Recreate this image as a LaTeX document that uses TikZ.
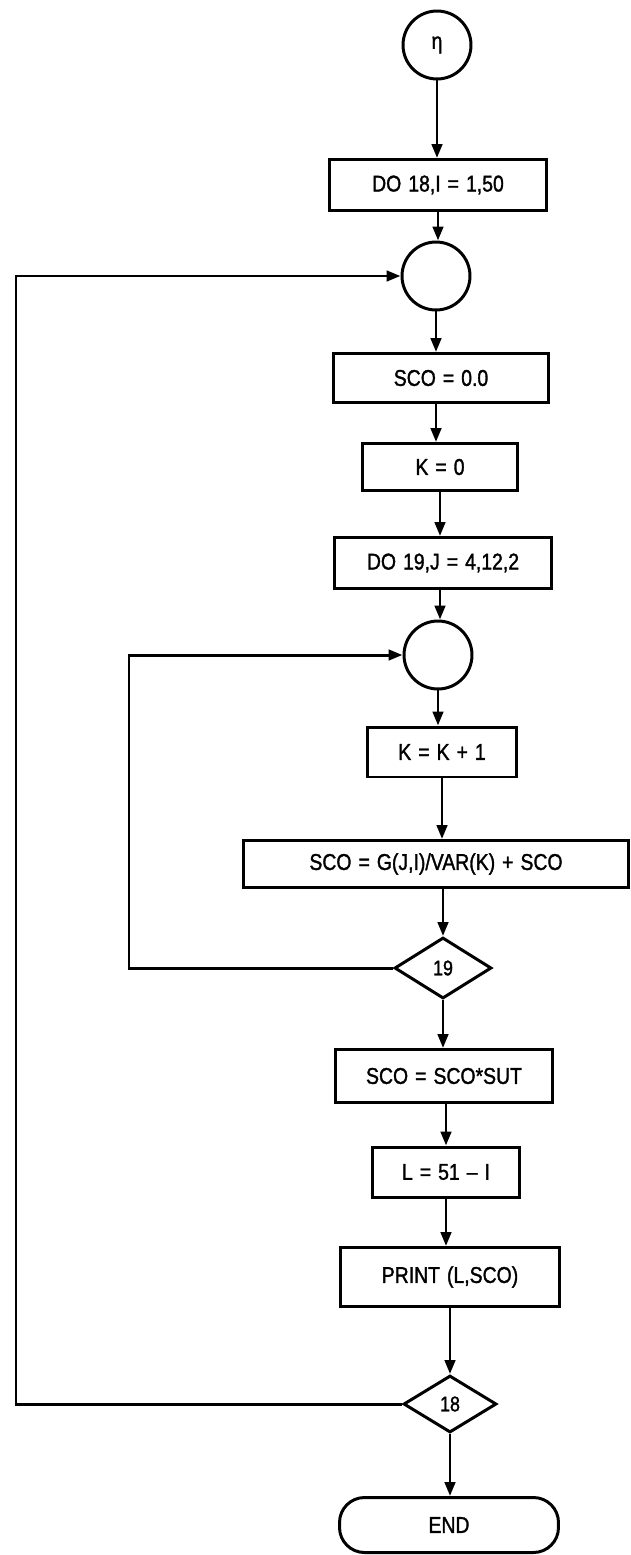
\documentclass[tikz,border=0pt]{standalone}
\usepackage{fontspec}
\setmainfont{Liberation Sans}
\newfontfamily\flowfont{Liberation Sans}[FakeStretch=0.85,FakeBold=1.4,WordSpace=1.3]
\usetikzlibrary{arrows.meta,shapes.geometric,calc}

\begin{document}
\begin{tikzpicture}[x=0.02cm,y=-0.02cm,line width=1.7pt,
  box/.style={draw,rectangle,inner sep=0pt,font=\flowfont\fontsize{13}{15}\selectfont},
  conn/.style={draw,circle,inner sep=0pt,minimum size=1.36cm,font=\flowfont\fontsize{13}{15}\selectfont},
  test/.style={draw,diamond,inner sep=0pt,font=\flowfont\fontsize{12}{14}\selectfont},
  flow/.style={-{Triangle[length=2.8mm,width=2.1mm]}}]
\useasboundingbox (0,0) rectangle (630,1555);

\node[conn] (eta) at (437,45) {η};
\node[box,minimum width=4.34cm,minimum height=1.02cm] (do18) at (438,185) {DO 18,I = 1,50};
\node[conn] (c1) at (436,276) {};
\node[box,minimum width=4.32cm,minimum height=0.98cm] (sco0) at (441,378) {SCO = 0.0};
\node[box,minimum width=3.1cm,minimum height=0.94cm] (k0) at (440,467) {K = 0};
\node[box,minimum width=4.36cm,minimum height=1.02cm] (do19) at (443,563) {DO 19,J = 4,12,2};
\node[conn] (c2) at (438,655) {};
\node[box,minimum width=2.98cm,minimum height=1cm] (kk1) at (442,752) {K = K + 1};
\node[box,minimum width=7.7cm,minimum height=0.94cm] (scog) at (436,864) {SCO = G(J,I)/VAR(K) + SCO};
\node[test,minimum width=1.94cm,minimum height=1.22cm] (d19) at (443,968) {19};
\node[box,minimum width=4.34cm,minimum height=1.06cm] (sut) at (444,1076) {SCO = SCO*SUT};
\node[box,minimum width=2.96cm,minimum height=1cm] (l51) at (446,1172) {L = 51 – I};
\node[box,minimum width=4.38cm,minimum height=1.18cm] (prt) at (450,1277) {PRINT (L,SCO)};
\node[test,minimum width=1.86cm,minimum height=1.14cm] (d18) at (450,1404) {18};
\node[box,rounded corners=0.5cm,minimum width=4.38cm,minimum height=1.1cm] (stop) at (449,1525) {END};

\coordinate (outl) at (16,0);
\coordinate (inl) at (129,0);

\draw[flow] (eta.south) -- (eta.south |- do18.north);
\draw[flow] (do18.south) -- (do18.south |- c1.north);
\draw[flow] (c1.south) -- (c1.south |- sco0.north);
\draw[flow] (c1.south |- sco0.south) -- (c1.south |- k0.north);
\draw[flow] (k0.south) -- (k0.south |- do19.north);
\draw[flow] (k0.south |- do19.south) -- (k0.south |- c2.north);
\draw[flow] (c2.south) -- (c2.south |- kk1.north);
\draw[flow] (kk1.south) -- (kk1.south |- scog.north);
\draw[flow] (d19.north |- scog.south) -- (d19.north);
\draw[flow] (d19.south) -- (d19.south |- sut.north);
\draw[flow] (l51.north |- sut.south) -- (l51.north);
\draw[flow] (l51.south) -- (l51.south |- prt.north);
\draw[flow] (prt.south) -- (prt.south |- d18.north);
\draw[flow] (d18.south) -- (d18.south |- stop.north);

\draw[flow] (d19.west) -| (inl |- c2.west) -- (c2.west);
\draw[flow] (d18.west) -| (outl |- c1.west) -- (c1.west);

\end{tikzpicture}
\end{document}
